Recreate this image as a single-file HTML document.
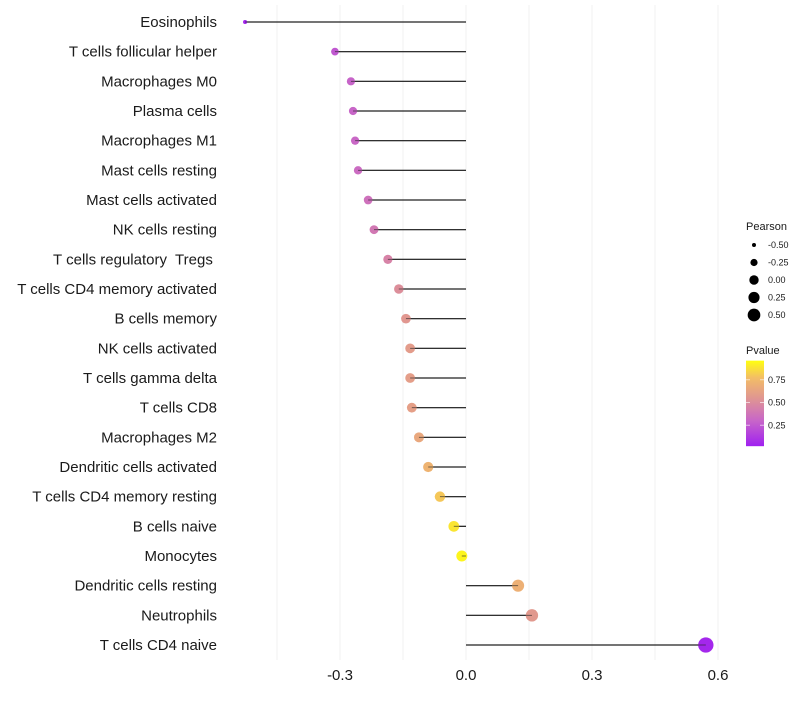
<!DOCTYPE html>
<html><head><meta charset="utf-8"><style>
body{margin:0;background:#fff;font-family:"Liberation Sans",sans-serif}
svg text{font-family:"Liberation Sans",sans-serif;white-space:pre}
</style></head><body>
<svg id="chart" width="800" height="700" xmlns="http://www.w3.org/2000/svg">
<defs><linearGradient id="pg" x1="0" y1="1" x2="0" y2="0">
<stop offset="0" stop-color="#a020f0"/><stop offset="0.3" stop-color="#c866c8"/><stop offset="0.55" stop-color="#df9494"/><stop offset="0.8" stop-color="#f3bd66"/><stop offset="1" stop-color="#ffff10"/>
</linearGradient></defs>
<g id="grid"></g><g id="marks"></g><g id="labels"></g><g id="legend"></g>
</svg>
<script>
const categories=["Eosinophils","T cells follicular helper","Macrophages M0","Plasma cells","Macrophages M1","Mast cells resting","Mast cells activated","NK cells resting","T cells regulatory  Tregs ","T cells CD4 memory activated","B cells memory","NK cells activated","T cells gamma delta","T cells CD8","Macrophages M2","Dendritic cells activated","T cells CD4 memory resting","B cells naive","Monocytes","Dendritic cells resting","Neutrophils","T cells CD4 naive"];
const pearson=[-0.526,-0.312,-0.274,-0.269,-0.264,-0.257,-0.233,-0.219,-0.186,-0.160,-0.143,-0.133,-0.133,-0.129,-0.112,-0.090,-0.062,-0.029,-0.010,0.124,0.157,0.571];
const pvalue=[0.02,0.24,0.29,0.30,0.31,0.33,0.36,0.40,0.46,0.52,0.57,0.60,0.61,0.62,0.67,0.74,0.83,0.92,0.97,0.72,0.58,0.03];
const xTicks=[-0.3,0,0.3,0.6];
const xTickLabels=["-0.3","0.0","0.3","0.6"];
const sizeLegend=[-0.5,-0.25,0,0.25,0.5];
const sizeLegendLabels=["-0.50","-0.25","0.00","0.25","0.50"];
const pTicks=[0.25,0.5,0.75];
const pTickLabels=["0.25","0.50","0.75"];
const NS="http://www.w3.org/2000/svg";
const x=v=>466+420*v;
const y=i=>22+i*(623/21);
const r=v=>Math.sqrt(Math.max(1,4+50*(v+0.53)));
const stops=[[0,[160,32,240]],[0.3,[200,102,200]],[0.55,[223,148,148]],[0.8,[243,189,102]],[1,[255,255,16]]];
function col(p){for(let k=1;k<stops.length;k++){if(p<=stops[k][0]){const a=stops[k-1],b=stops[k];const t=(p-a[0])/(b[0]-a[0]);const c=a[1].map((v,j)=>Math.round(v+(b[1][j]-v)*t));return `rgb(${c})`;}}return "rgb(255,255,16)";}
function mk(tag,attrs,parent,text){const e=document.createElementNS(NS,tag);for(const k in attrs)e.setAttribute(k,attrs[k]);if(text!==undefined)e.textContent=text;document.getElementById(parent).appendChild(e);return e;}
const grid=[-0.45,-0.3,-0.15,0,0.15,0.3,0.45,0.6];
grid.forEach(g=>{const l=mk("line",{x1:x(g),x2:x(g),y1:5,y2:660,stroke:"#f0f0f0","stroke-width":1},"grid");

});
categories.forEach((c,i)=>{
const t=mk("text",{x:217,y:y(i)+5,"text-anchor":"end","font-size":15,fill:"#1a1a1a"},"labels",c);


const l=mk("line",{x1:x(0),x2:x(pearson[i]),y1:y(i),y2:y(i),stroke:"#222","stroke-width":1.2},"marks");


const d=mk("circle",{cx:x(pearson[i]),cy:y(i),r:r(pearson[i]),fill:col(pvalue[i])},"marks");


const l2=mk("line",{x1:x(0),x2:x(pearson[i]),y1:y(i),y2:y(i),stroke:"#222","stroke-width":1,"stroke-opacity":0.6},"marks");


});
xTicks.forEach((v,i)=>{const t=mk("text",{x:x(v),y:680,"text-anchor":"middle","font-size":15,fill:"#1a1a1a"},"labels",xTickLabels[i]);

});
let t=mk("text",{x:746,y:230,"font-size":11,fill:"#1a1a1a"},"legend","Pearson");


sizeLegend.forEach((v,i)=>{const yy=245+i*17.5;
const c=mk("circle",{cx:754,cy:yy,r:r(v)*0.85,fill:"#000"},"legend");


const l=mk("text",{x:768,y:yy+3,"font-size":9,fill:"#1a1a1a"},"legend",sizeLegendLabels[i]);

});
t=mk("text",{x:746,y:354,"font-size":11,fill:"#1a1a1a"},"legend","Pvalue");


const py=p=>448-91*p;
const bar=mk("rect",{x:746,y:py(0.96),width:18,height:py(0.02)-py(0.96),fill:"url(#pg)"},"legend");


pTicks.forEach((p,i)=>{
const l=mk("text",{x:768,y:py(p)+3,"font-size":9,fill:"#1a1a1a"},"legend",pTickLabels[i]);


const tk=mk("line",{x1:746,x2:750,y1:py(p),y2:py(p),stroke:"#fff","stroke-opacity":0.6},"legend");


const tk2=mk("line",{x1:760,x2:764,y1:py(p),y2:py(p),stroke:"#fff","stroke-opacity":0.6},"legend");

});
</script>
</body></html>
